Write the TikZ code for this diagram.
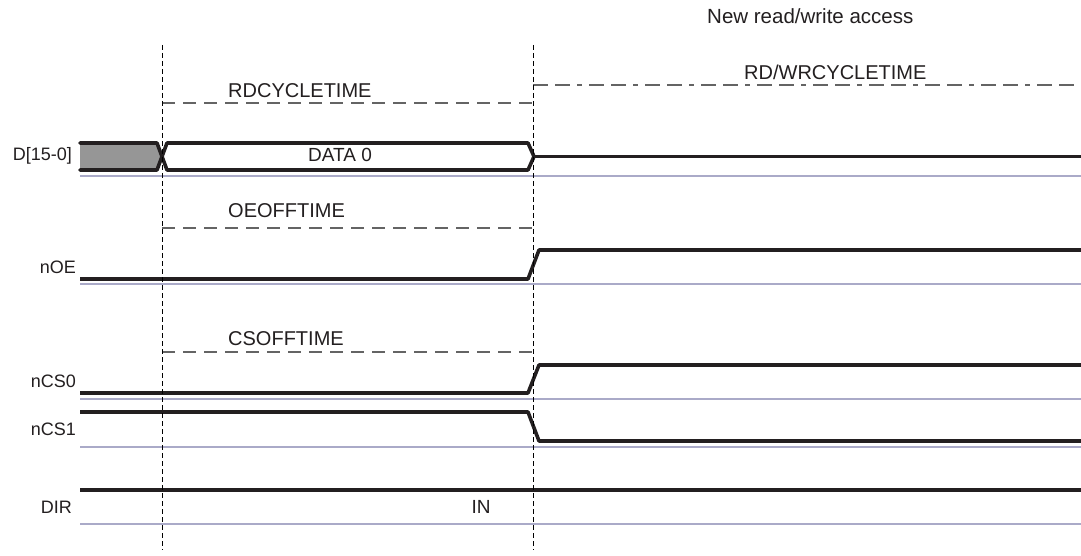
\documentclass[tikz,border=0pt]{standalone}
\usepackage{fontspec}
\setmainfont{Liberation Sans}
\definecolor{sig}{RGB}{35,31,32}
\definecolor{baseln}{RGB}{170,170,200}
\definecolor{busgray}{RGB}{150,150,150}
\definecolor{dashgray}{RGB}{100,100,100}
\definecolor{txt}{RGB}{35,31,32}
\tikzset{
  sigline/.style={draw=sig, line width=3.6pt, line cap=round, line join=round},
  baseline/.style={draw=baseln, line width=1.6pt},
  vmark/.style={draw=black, line width=0.9pt, dash pattern=on 5pt off 3pt},
  tmark/.style={draw=dashgray, line width=1.1pt, dash pattern=on 13pt off 8pt},
  rwmark/.style={draw=dashgray, line width=1.1pt, dash pattern=on 15pt off 7pt on 15pt off 7pt on 5pt off 7pt},
  siglabel/.style={anchor=east, inner sep=0pt, text=txt, font=\fontsize{18}{20}\selectfont},
  toplabel/.style={anchor=west, inner sep=0pt, text=txt, font=\fontsize{20}{22}\selectfont},
  intext/.style={inner sep=0pt, text=txt, font=\fontsize{19}{21}\selectfont}
}
\begin{document}
\begin{tikzpicture}[x=1pt,y=-1pt]
\useasboundingbox (0,0) rectangle (1081,556);
\fill[white] (0,0) rectangle (1081,556);

% coordinates
\coordinate (v1t) at (162,45);
\coordinate (v1b) at (162,550);
\coordinate (v2t) at (533,45);
\coordinate (v2b) at (533,550);

% header
\node[intext, anchor=west, font=\fontsize{20.5}{22}\selectfont] (newacc) at (707,16) {New read/write access};

% RD/WR cycle time
\coordinate (rwa) at (533,85);
\coordinate (rwb) at (1081,85);
\draw[rwmark] (rwa) -- (rwb);
\node[toplabel] (rwlab) at (744,72) {RD/WRCYCLETIME};

% RDCYCLETIME
\coordinate (rda) at (162,103);
\coordinate (rdb) at (533,103);
\draw[tmark] (rda) -- (rdb);
\node[toplabel] (rdlab) at (228,91) {RDCYCLETIME};

% OEOFFTIME
\coordinate (oea) at (162,228);
\coordinate (oeb) at (533,228);
\draw[tmark] (oea) -- (oeb);
\node[toplabel] (oelab) at (228,211) {OEOFFTIME};

% CSOFFTIME
\coordinate (csa) at (162,352);
\coordinate (csb) at (533,352);
\draw[tmark] (csa) -- (csb);
\node[toplabel] (cslab) at (228,339) {CSOFFTIME};

% baselines
\foreach \yy/\nm in {176/bd,284/boe,399/bcs0,447/bcs1,524/bdir}{
  \coordinate (\nm a) at (80,\yy);
  \coordinate (\nm b) at (1081,\yy);
  \draw[baseline] (\nm a) -- (\nm b);
}

% D[15-0] bus
\fill[busgray] (80,143) -- (157,143) -- (162,156.5) -- (157,170) -- (80,170) -- cycle;
\draw[sigline] (80,143) -- (157,143) -- (167,170) -- (528,170) -- (534,156.5) -- (528,143) -- (167,143) -- (157,170) -- (80,170);
\coordinate (dend) at (534,156.5);
\coordinate (dright) at (1081,156.5);
\draw[sigline, line cap=butt] (dend) -- (dright);
\node[intext] (data0) at (340,155) {DATA 0};
\node[siglabel] (dlab) at (72,156) {D[15-0]};

% nOE
\draw[sigline, line cap=butt] (80,279) -- (528,279) -- (539,250) -- (1081,250);
\node[siglabel] (oel) at (76,267) {nOE};

% nCS0
\draw[sigline, line cap=butt] (80,393) -- (528,393) -- (539,365) -- (1081,365);
\node[siglabel] (cs0l) at (76,381) {nCS0};

% nCS1
\draw[sigline, line cap=butt] (80,412) -- (528,412) -- (539,441) -- (1081,441);
\node[siglabel] (cs1l) at (76,429) {nCS1};

% DIR
\draw[sigline, line cap=butt] (80,490) -- (1081,490);
\node[siglabel] (dirl) at (72,507) {DIR};
\node[intext] (inl) at (481,507) {IN};

% vertical markers
\draw[vmark] (v1t) -- (v1b);
\draw[vmark] (v2t) -- (v2b);
\end{tikzpicture}
\end{document}
